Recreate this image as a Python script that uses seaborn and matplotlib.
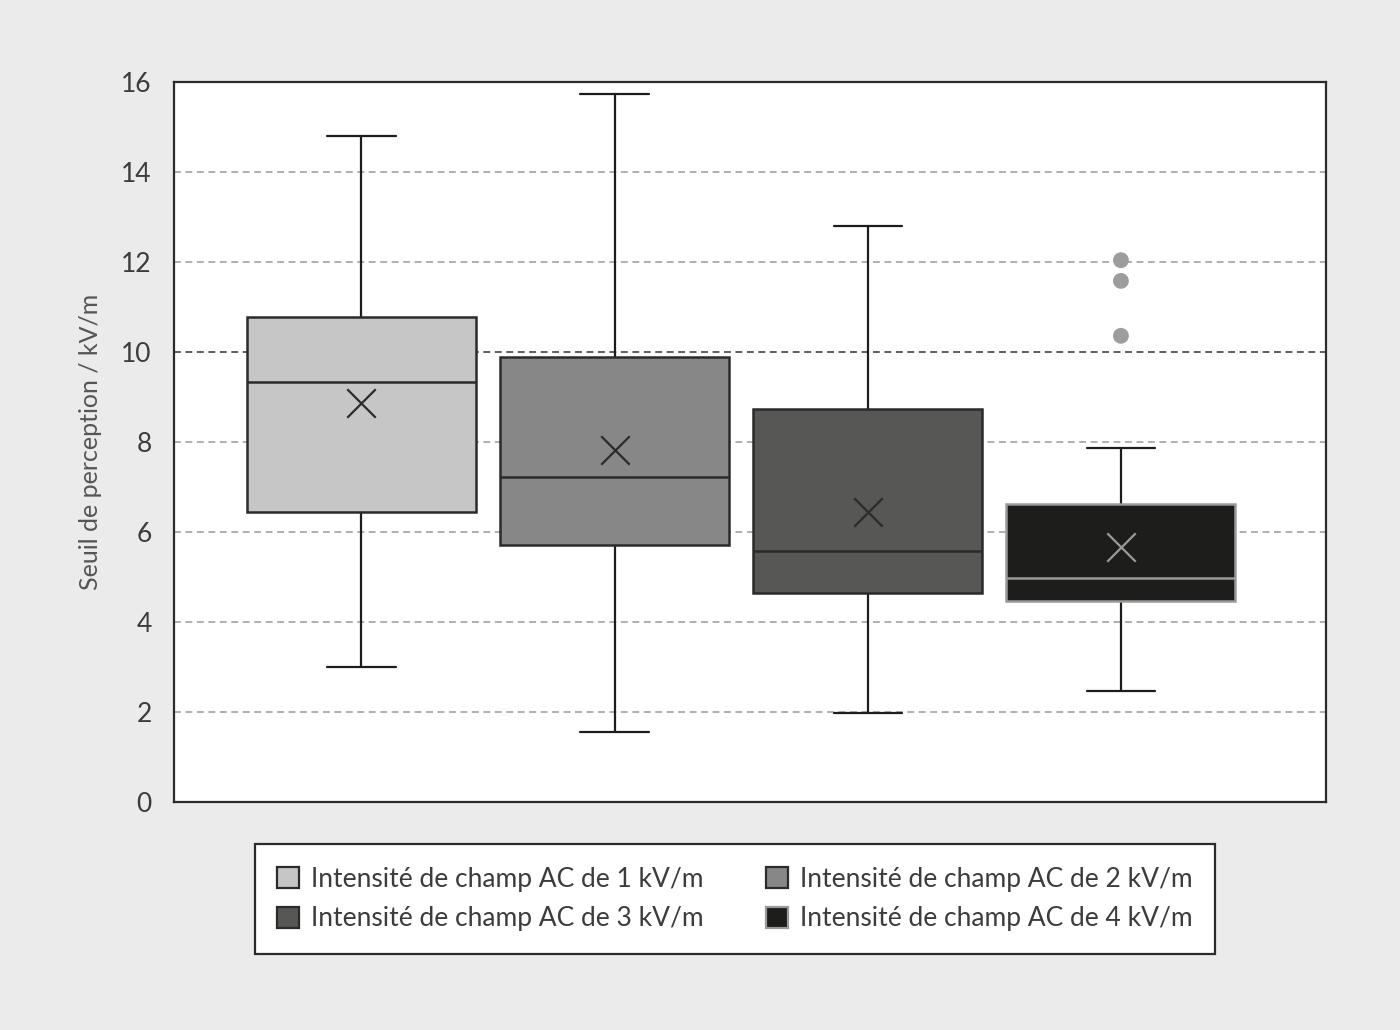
import numpy as np
import matplotlib
matplotlib.use("Agg")
import matplotlib.pyplot as plt
from matplotlib.patches import Patch
import seaborn as sns

# values (kV/m)
labels = ["Intensité de champ AC de 1 kV/m", "Intensité de champ AC de 2 kV/m",
          "Intensité de champ AC de 3 kV/m", "Intensité de champ AC de 4 kV/m"]
whislo = [3.0, 1.56, 1.98, 2.47]
q1 = [6.44, 5.71, 4.64, 4.47]
med = [9.33, 7.22, 5.58, 4.98]
q3 = [10.78, 9.89, 8.73, 6.62]
whishi = [14.8, 15.73, 12.8, 7.87]
means = [8.87, 7.82, 6.44, 5.67]
fliers = [[], [], [], [10.36, 11.58, 12.04]]

box_colors = ["#c6c6c6", "#878787", "#575756", "#1d1d1b"]
edge_colors = ["#2b2b2a", "#2b2b2a", "#2b2b2a", "#9a9a9a"]
yticks = [0, 2, 4, 6, 8, 10, 12, 14, 16]

sns.set_style("white")
plt.rcParams["font.family"] = ["Lato", "DejaVu Sans"]
text_color = "#3c3c3b"
bg = "#ebebeb"

fig = plt.figure(figsize=(14, 10.3), dpi=100, facecolor=bg)
ax = fig.add_axes([174 / 1400, 1 - 802 / 1030, (1326 - 174) / 1400, (802 - 82) / 1030])
ax.set_facecolor("white")

# grid lines
for t in yticks[1:-1]:
    ax.axhline(t, color="#333333" if t == 10 else "#9a9a9a", lw=1.1,
               ls=(0, (4.5, 3)), zorder=0)

stats = []
for i in range(len(labels)):
    stats.append(dict(whislo=whislo[i], q1=q1[i], med=med[i], q3=q3[i],
                      whishi=whishi[i], mean=means[i], fliers=[]))

bp = ax.bxp(stats, positions=range(4), widths=0.905, patch_artist=True,
            showmeans=False, showfliers=False, manage_ticks=False)
for i in range(4):
    bp["boxes"][i].set(facecolor=box_colors[i], edgecolor=edge_colors[i], lw=1.8, zorder=3)
    bp["medians"][i].set(color=edge_colors[i], lw=1.8, zorder=4)
for w in bp["whiskers"]:
    w.set(color="#1d1d1b", lw=1.6, zorder=2)
for c in bp["caps"]:
    c.set(color="#1d1d1b", lw=1.6, zorder=2)
    x = c.get_xdata()
    mid = (x[0] + x[1]) / 2
    c.set_xdata([mid - 0.135, mid + 0.135])

# means (x markers) and outliers
for i in range(4):
    sns.scatterplot(x=[i], y=[means[i]], marker="x", s=420, linewidth=1.6,
                    color=edge_colors[i] if i == 3 else "#2b2b2a", ax=ax, zorder=5)
fl_x = [i for i in range(4) for _ in fliers[i]]
fl_y = [v for i in range(4) for v in fliers[i]]
sns.scatterplot(x=fl_x, y=fl_y, s=130, color="#9d9d9c", edgecolor="none", ax=ax, zorder=5)

ax.set_xlim(-0.74, 3.81)
ax.set_ylim(0, 16)
ax.set_xticks([])
ax.set_yticks(yticks)
ax.set_yticklabels([str(t) for t in yticks], fontsize=19, color=text_color)
ax.tick_params(axis="y", length=0, pad=16)
for s in ax.spines.values():
    s.set_color("#2b2b2a")
    s.set_linewidth(1.6)
ax.set_ylabel("Seuil de perception / kV/m", fontsize=18, color="#555554", labelpad=14)

# legend filled row by row: 1, 2 / 3, 4
order = [0, 2, 1, 3]
handles = [Patch(facecolor=box_colors[i], edgecolor=edge_colors[i], lw=1.6, label=labels[i])
           for i in order]
leg = fig.legend(handles=handles, ncol=2, loc="center", bbox_to_anchor=(735 / 1400, 1 - 899 / 1030),
                 fontsize=19, frameon=True, fancybox=False, edgecolor="#2b2b2a",
                 facecolor="white", framealpha=1,
                 handlelength=0.85, handleheight=0.85, handletextpad=0.45, columnspacing=2.35,
                 borderpad=0.85, labelspacing=0.55, borderaxespad=0)
leg.get_frame().set_linewidth(1.6)
for t in leg.get_texts():
    t.set_color(text_color)

fig.savefig("out.png", dpi=100, facecolor=bg)
